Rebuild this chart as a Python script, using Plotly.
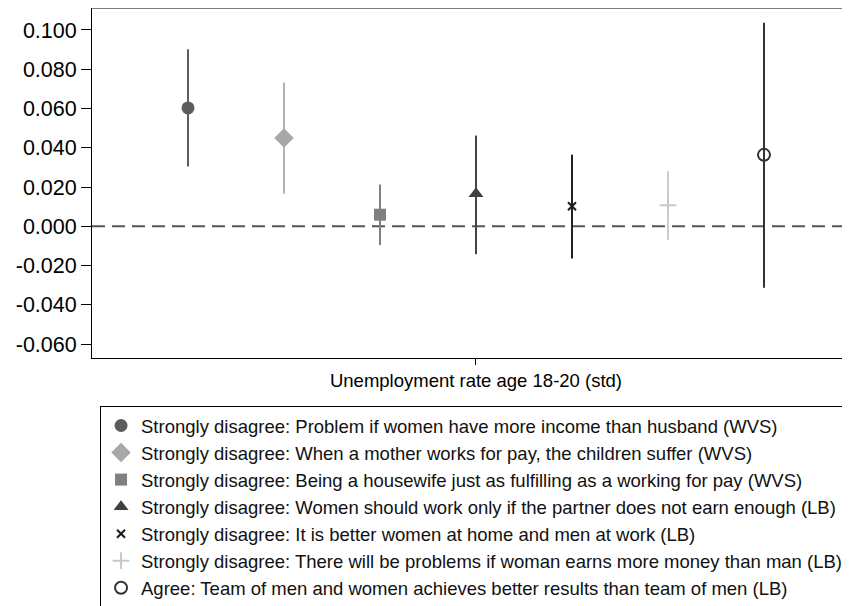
import plotly.graph_objects as go

labels = [
    "Strongly disagree: Problem if women have more income than husband (WVS)",
    "Strongly disagree: When a mother works for pay, the children suffer (WVS)",
    "Strongly disagree: Being a housewife just as fulfilling as a working for pay (WVS)",
    "Strongly disagree: Women should work only if the partner does not earn enough (LB)",
    "Strongly disagree: It is better women at home and men at work (LB)",
    "Strongly disagree: There will be problems if woman earns more money than man (LB)",
    "Agree: Team of men and women achieves better results than team of men (LB)",
]
x_pos = [1, 2, 3, 4, 5, 6, 7]
estimates = [0.0603, 0.0450, 0.0059, 0.0166, 0.0102, 0.0107, 0.0364]
ci_low = [0.0305, 0.0166, -0.0096, -0.0142, -0.0164, -0.0071, -0.0313]
ci_high = [0.0902, 0.0733, 0.0213, 0.0462, 0.0365, 0.0281, 0.1037]
y_ticks = [0.100, 0.080, 0.060, 0.040, 0.020, 0.000, -0.020, -0.040, -0.060]
x_tick_label = "Unemployment rate age 18-20 (std)"

symbols = ["circle", "diamond", "square", "triangle-up", "x-thin", "cross-thin", "circle-open"]
colors = ["#5c5c5c", "#a8a8a8", "#808080", "#3f3f3f", "#1a1a1a", "#c8c8c8", "#333333"]
bar_colors = ["#5e5e5e", "#b4b4b4", "#808080", "#444444", "#222222", "#cccccc", "#333333"]
sizes = [13, 15, 12, 13, 8, 12, 12]

FONT = "Liberation Sans, Arial, sans-serif"

fig = go.Figure()
for i in range(len(labels)):
    marker = dict(symbol=symbols[i], size=sizes[i], color=colors[i])
    if symbols[i] in ("x-thin", "cross-thin", "circle-open"):
        marker["line"] = dict(color=colors[i], width=2)
    fig.add_trace(go.Scatter(
        x=[x_pos[i]], y=[estimates[i]], mode="markers", name=labels[i],
        legendgroup=f"g{i}",
        marker=marker,
        error_y=dict(type="data", symmetric=False,
                     array=[ci_high[i] - estimates[i]],
                     arrayminus=[estimates[i] - ci_low[i]],
                     thickness=2, width=0, color=bar_colors[i]),
    ))

fig.add_shape(type="line", xref="paper", x0=0, x1=1, yref="y", y0=0, y1=0,
              line=dict(color="#555555", width=2, dash="13px,7px"), layer="below")
fig.add_shape(type="line", xref="paper", x0=0, x1=1, yref="paper", y0=1, y1=1,
              line=dict(color="#000000", width=1))

fig.update_layout(
    width=850, height=606,
    margin=dict(l=84, r=8, t=0, b=256, autoexpand=False),
    paper_bgcolor="white", plot_bgcolor="white",
    font=dict(family=FONT, color="#000000"),
    showlegend=True,
    legend=dict(x=0.0106, y=-0.137, xanchor="left", yanchor="top",
                bordercolor="#000000", borderwidth=1, bgcolor="white",
                font=dict(size=18.5, family=FONT, color="#111111"),
                tracegroupgap=1.5, traceorder="normal"),
    xaxis=dict(range=[0, 7.896], showgrid=False, zeroline=False,
               showline=True, linecolor="#000000", linewidth=1,
               tickvals=[4], ticktext=[x_tick_label], ticks="outside",
               ticklen=6, tickcolor="#000000", tickfont=dict(size=18.5, family=FONT)),
    yaxis=dict(range=[-0.0671, 0.1112], showgrid=False, zeroline=False,
               showline=True, linecolor="#000000", linewidth=1,
               tickvals=y_ticks, ticktext=[f"{v:.3f}" for v in y_ticks],
               ticks="outside", ticklen=10, tickcolor="#000000",
               tickfont=dict(size=21.5, family=FONT)),
)

fig.write_html("out.html")
